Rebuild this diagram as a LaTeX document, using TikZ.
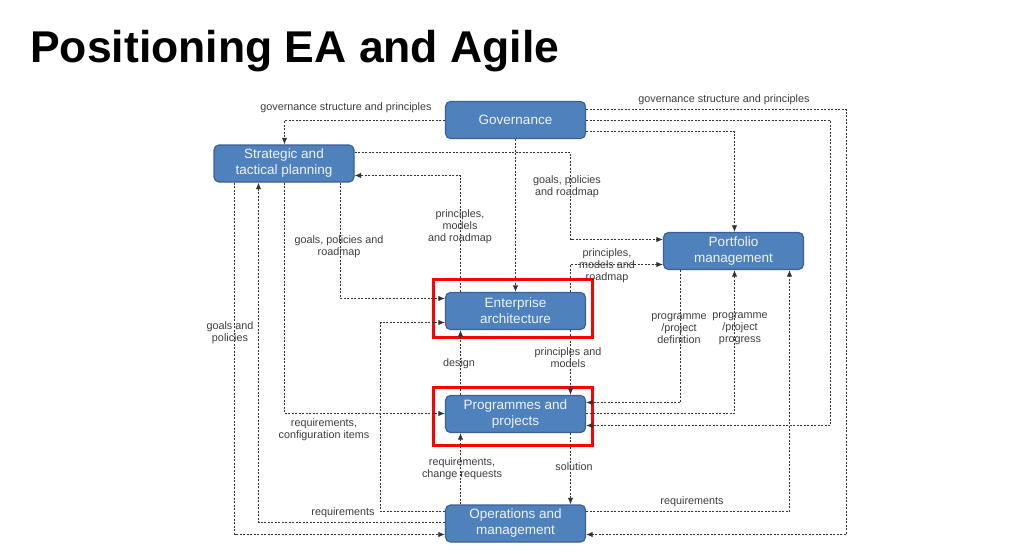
\documentclass[tikz,border=0pt]{standalone}
\usepackage{fontspec}
\setmainfont{Liberation Sans}
\usetikzlibrary{arrows.meta,calc}
\definecolor{boxfill}{HTML}{4F81BD}
\definecolor{boxline}{HTML}{3A6095}
\definecolor{wire}{HTML}{333333}
\definecolor{labelgray}{HTML}{3C3C3C}
\definecolor{boxtext}{HTML}{EEF2F8}
\begin{document}
\begin{tikzpicture}[x=1pt,y=-1pt,
  unit/.style={draw=boxline, fill=boxfill, line width=1.2pt, rounded corners=5pt,
    minimum width=140pt, minimum height=37pt, inner sep=2pt, align=center,
    text=boxtext, font=\fontsize{13.5}{16}\selectfont},
  flow/.style={draw=wire, line width=1pt, dash pattern=on 2.2pt off 1.3pt,
    -{Latex[length=6.5pt,width=5.5pt]}},
  tag/.style={text=labelgray, align=center, font=\fontsize{10.8}{12}\selectfont, inner sep=0pt},
  highlight/.style={draw=red, line width=3pt}
]
\path[use as bounding box] (0,0) rectangle (1034,554);

% title
\node[anchor=base west, inner sep=0pt, font=\bfseries\fontsize{44.5}{48}\selectfont] (title) at (30,62) {Positioning EA and Agile};

% boxes
\node[unit] (gov)   at (515.5,120)   {Governance};
\node[unit] (strat) at (284,163.5) {Strategic and\\tactical planning};
\node[unit] (port)  at (733.5,251) {Portfolio\\management};
\node[unit] (ea)    at (515.5,311) {Enterprise\\architecture};
\node[unit] (prog)  at (515.5,414) {Programmes and\\projects};
\node[unit] (ops)   at (515.5,523.5) {Operations and\\management};

% highlight frames
\draw[highlight] ($(ea.north west)+(-11.5,-12.5)$) rectangle ($(ea.south east)+(6,7)$);
\draw[highlight] ($(prog.north west)+(-11.5,-7.5)$) rectangle ($(prog.south east)+(6,12.5)$);

% routing columns and rows
\coordinate (cA) at (234.5,0);
\coordinate (cB) at (258.5,0);
\coordinate (cC) at (284.5,0);
\coordinate (cD) at (340.5,0);
\coordinate (cE) at (380.5,0);
\coordinate (cF) at (460.5,0);
\coordinate (cH) at (570.5,0);
\coordinate (cI) at (680.5,0);
\coordinate (cJ) at (734.5,0);
\coordinate (cK) at (789.5,0);
\coordinate (cL) at (830.5,0);
\coordinate (cM) at (846.5,0);
\coordinate (r109) at (0,109.5);
\coordinate (r120) at (0,120.5);
\coordinate (r131) at (0,131.5);
\coordinate (r152) at (0,152.5);
\coordinate (r175) at (0,175.5);
\coordinate (r239) at (0,239.5);
\coordinate (r264) at (0,264.5);
\coordinate (r298) at (0,298.5);
\coordinate (r322) at (0,322.5);
\coordinate (r402) at (0,402.5);
\coordinate (r413) at (0,413.5);
\coordinate (r425) at (0,425.5);
\coordinate (r511) at (0,511.5);
\coordinate (r522) at (0,522.5);
\coordinate (r534) at (0,534.5);

% connectors
\draw[flow] (gov.west |- r120) -| (strat.north -| cC);
\draw[flow] (gov.east |- r109) -| (cM |- r534) -- (ops.east |- r534);
\draw[flow] (gov.east |- r120) -| (cL |- r425) -- (prog.east |- r425);
\draw[flow] (gov.east |- r131) -| (port.north -| cJ);
\draw[flow] (gov.south) -- (ea.north);
\draw[flow] (strat.east |- r152) -| (cH |- r239) -- (port.west |- r239);
\draw[flow] (ea.north -| cF) |- (strat.east |- r175);
\draw[flow] (strat.south -| cD) |- (ea.west |- r298);
\draw[flow] (ea.north -| cH) |- (port.west |- r264);
\draw[flow] (ops.west |- r511) -| (cE |- r322) -- (ea.west |- r322);
\draw[flow] (strat.south -| cC) |- (prog.west |- r413);
\draw[flow] (ops.west |- r522) -| (strat.south -| cB);
\draw[flow] (strat.south -| cA) |- (ops.west |- r534);
\draw[flow] (prog.north -| cF) -- (ea.south -| cF);
\draw[flow] (ea.south -| cH) -- (prog.north -| cH);
\draw[flow] (port.south -| cI) |- (prog.east |- r402);
\draw[flow] (prog.east |- r413) -| (port.south -| cJ);
\draw[flow] (ops.north -| cF) -- (prog.south -| cF);
\draw[flow] (prog.south -| cH) -- (ops.north -| cH);
\draw[flow] (ops.east |- r511) -| (port.south -| cK);

% connector labels
\node[tag] (l1)  at (346,108) {governance structure and principles};
\node[tag] (l2)  at (724,100) {governance structure and principles};
\node[tag] (l3)  at (567,187) {goals, policies\\and roadmap};
\node[tag] (l4)  at (460,227) {principles,\\models\\and roadmap};
\node[tag] (l5)  at (339,247) {goals, policies and\\roadmap};
\node[tag] (l6)  at (607,266) {principles,\\models and\\roadmap};
\node[tag] (l7)  at (230,333) {goals and\\policies};
\node[tag] (l8)  at (459,364) {design};
\node[tag] (l9)  at (568,358) {principles and\\models};
\node[tag] (l10) at (679,329) {programme\\/project\\definition};
\node[tag] (l11) at (740,329) {programme\\/project\\progress};
\node[tag] (l12) at (324,430) {requirements,\\configuration items};
\node[tag] (l13) at (462,469) {requirements,\\change requests};
\node[tag] (l14) at (574,467) {solution};
\node[tag] (l15) at (343,513) {requirements};
\node[tag] (l16) at (692,502) {requirements};
\end{tikzpicture}
\end{document}
